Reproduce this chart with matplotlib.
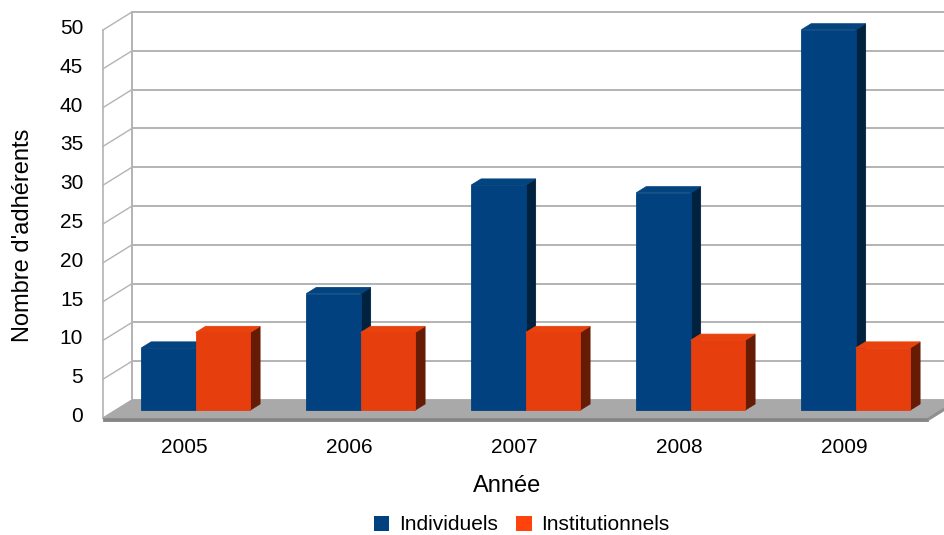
"""Nombre d'adhérents par année, 3D-looking grouped bars (oblique projection)."""

import matplotlib

matplotlib.use("Agg")
import matplotlib.pyplot as plt  # noqa: E402
from matplotlib.patches import Patch, Polygon  # noqa: E402

plt.rcParams["font.family"] = ["Liberation Sans", "DejaVu Sans"]

years = ["2005", "2006", "2007", "2008", "2009"]
individuels = [8, 15, 29, 28, 49]
institutionnels = [10, 10, 10, 9, 8]
series_names = ["Individuels", "Institutionnels"]
y_ticks = [0, 5, 10, 15, 20, 25, 30, 35, 40, 45, 50]

# colours: front, top, side
BLUE = ("#01417f", "#03447f", "#01223f")
ORANGE = ("#e63e0d", "#e8420f", "#661b05")

# oblique depth offset (category units, value units)
DX = 29 / 165
DV = 18 / 7.76
BAR_W = 0.33
Z0, Z1 = 0.44, 0.78
X_LEFT = -0.485
X_RIGHT = 4.515


def proj(x, v, z):
    return (x + z * DX, v + z * DV)


def poly(ax, pts, color, zorder, **kw):
    ax.add_patch(Polygon(pts, closed=True, facecolor=color, edgecolor=color,
                         linewidth=0.6, zorder=zorder, **kw))


def bar3d(ax, x0, x1, v, colors, zorder):
    front, top, side = colors
    poly(ax, [proj(x1, 0, Z0), proj(x1, v, Z0), proj(x1, v, Z1), proj(x1, 0, Z1)], side, zorder)
    poly(ax, [proj(x0, v, Z0), proj(x1, v, Z0), proj(x1, v, Z1), proj(x0, v, Z1)], top, zorder)
    poly(ax, [proj(x0, 0, Z0), proj(x1, 0, Z0), proj(x1, v, Z0), proj(x0, v, Z0)], front, zorder)


fig = plt.figure(figsize=(9.45, 5.35), dpi=100)
ax = fig.add_axes([0, 0, 1, 1])
ax.set_xlim(-183 / 165, (945 - 183) / 165)
ax.set_ylim(-117 / 7.76, 418 / 7.76)
ax.axis("off")

grid_c = "#b3b3b3"
# back wall gridlines and left wall slanted lines
for t in y_ticks:
    bx, bv = proj(X_LEFT, t, 1)
    ax.plot([bx, 6], [bv, bv], color=grid_c, lw=1.4, zorder=1)
    fx, fv = proj(X_LEFT, t, 0)
    ax.plot([fx, bx], [fv, bv], color=grid_c, lw=1.0, zorder=1)
    ax.text(fx - 0.12, fv + 0.2, str(t), ha="right", va="center", fontsize=15)
ax.plot([X_LEFT, X_LEFT], [0, 50], color=grid_c, lw=1.2, zorder=1)
ax.plot([X_LEFT + DX, X_LEFT + DX], [DV, 50 + DV], color=grid_c, lw=1.4, zorder=1)

# floor
poly(ax, [proj(X_LEFT, 0, 0), proj(X_RIGHT, 0, 0), proj(X_RIGHT, 0, 1), proj(X_LEFT, 0, 1)],
     "#a9a9a9", 2)
poly(ax, [proj(X_LEFT, -0.35, 0), proj(X_RIGHT, -0.35, 0), proj(X_RIGHT, 0, 0), proj(X_LEFT, 0, 0)],
     "#858585", 2)
poly(ax, [proj(X_RIGHT, -0.35, 0), proj(X_RIGHT, -0.35, 1), proj(X_RIGHT, 0, 1), proj(X_RIGHT, 0, 0)],
     "#8f8f8f", 2)

# bars
for i, year in enumerate(years):
    bar3d(ax, i - BAR_W, i, individuels[i], BLUE, 3 + 2 * i)
    bar3d(ax, i, i + BAR_W, institutionnels[i], ORANGE, 4 + 2 * i)
    ax.text(i + 0.01, -3.85, year, ha="center", va="center", fontsize=15)

fig.text(507 / 945, 1 - 486 / 535, "Année", ha="center", va="center", fontsize=17)
fig.text(23 / 945, 1 - 235 / 535, "Nombre d'adhérents", ha="center", va="center",
         rotation=90, fontsize=17)

handles = [Patch(facecolor=BLUE[0]), Patch(facecolor="#ff420e")]
fig.legend(handles, series_names, loc="center", bbox_to_anchor=(0.552, 10 / 535),
           ncol=2, frameon=False, fontsize=15, handlelength=0.75, handleheight=0.75,
           handletextpad=0.45, columnspacing=0.9, borderpad=0)

fig.savefig("out.png", dpi=100)
